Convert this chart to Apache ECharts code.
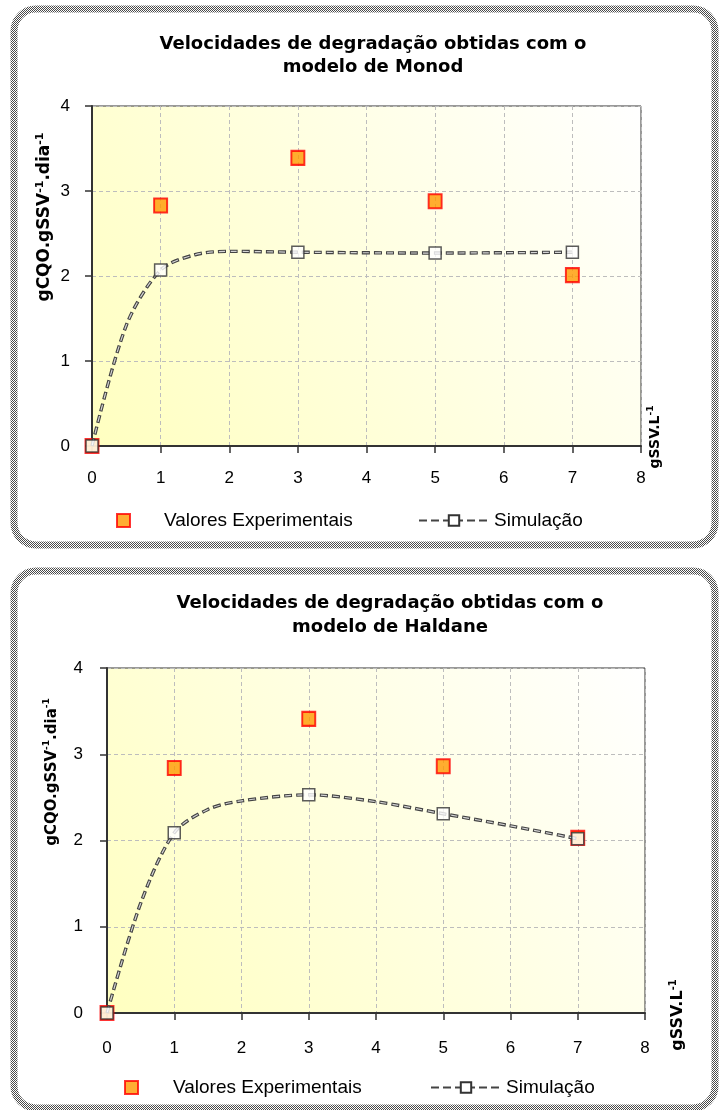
<!DOCTYPE html>
<html>
<head>
<meta charset="utf-8">
<script src="https://cdn.jsdelivr.net/npm/echarts@6/dist/echarts.min.js"></script>
<style>
html,body{margin:0;padding:0;background:#fff;}
#c{width:719px;height:1110px;}
</style>
</head>
<body>
<div id="c"></div>
<script>
// ---- data ----
const xTicks = [0, 1, 2, 3, 4, 5, 6, 7, 8];
const yTicks = [0, 1, 2, 3, 4];
// Monod
const xMonod = [0, 1, 3, 5, 7];
const expMonod = [0, 2.83, 3.39, 2.88, 2.01];
const simMonod = [0, 2.07, 2.28, 2.27, 2.28];
// simulated curve
const curveXMonod = [0, 0.5, 1, 1.5, 2, 3, 5, 7];
const curveYMonod = [0, 1.42, 2.07, 2.25, 2.29, 2.28, 2.27, 2.28];
// Haldane
const xHaldane = [0, 1, 3, 5, 7];
const expHaldane = [0, 2.84, 3.41, 2.86, 2.03];
const simHaldane = [0, 2.09, 2.53, 2.31, 2.02];
const curveXHaldane = [0, 0.5, 1, 1.5, 2, 3, 4, 5, 6, 7];
const curveYHaldane = [0, 1.27, 2.09, 2.36, 2.46, 2.53, 2.45, 2.31, 2.17, 2.02];

const titleMonod = ['Velocidades de degradação obtidas com o', 'modelo de Monod'];
const titleHaldane = ['Velocidades de degradação obtidas com o', 'modelo de Haldane'];
const expName = 'Valores Experimentais';
const simName = 'Simulação';

const zip = (xs, ys) => xs.map((x, i) => [x, ys[i]]);

const chart = echarts.init(document.getElementById('c'), null, {renderer: 'canvas'});

// checker pattern for frame
const pc = document.createElement('canvas');
pc.width = 2; pc.height = 2;
const pctx = pc.getContext('2d');
pctx.fillStyle = '#ffffff'; pctx.fillRect(0, 0, 2, 2);
pctx.fillStyle = '#4a4a4a'; pctx.fillRect(0, 0, 1, 1); pctx.fillRect(1, 1, 1, 1);
const pattern = {image: pc, repeat: 'repeat'};

const bg = () => new echarts.graphic.LinearGradient(0, 1, 1, 0, [
  {offset: 0, color: '#ffffc0'},
  {offset: 1, color: '#ffffff'}
]);

const labelFont = {fontFamily: 'Liberation Sans', fontSize: 17, color: '#000'};

function xAxisCfg(gi, margin) {
  return {
    type: 'value', gridIndex: gi, min: xTicks[0], max: xTicks[xTicks.length - 1], interval: 1,
    axisLine: {show: true, onZero: false, lineStyle: {color: '#333', width: 2}},
    axisTick: {show: true, length: 7, lineStyle: {color: '#333', width: 1.5}},
    axisLabel: Object.assign({margin: margin}, labelFont),
    splitLine: {show: true, lineStyle: {color: '#bdbdbd', type: [4, 3], width: 1}}
  };
}
function yAxisCfg(gi, margin) {
  return {
    type: 'value', gridIndex: gi, min: yTicks[0], max: yTicks[yTicks.length - 1], interval: 1,
    axisLine: {show: true, onZero: false, lineStyle: {color: '#333', width: 2}},
    axisTick: {show: true, length: 7, lineStyle: {color: '#333', width: 1.5}},
    axisLabel: Object.assign({margin: margin}, labelFont),
    splitLine: {show: true, lineStyle: {color: '#bdbdbd', type: [4, 3], width: 1}}
  };
}

function seriesFor(gi, xs, exp, sim, cx, cy) {
  const simMarker = {color: '#ffffff', borderColor: '#333', borderWidth: 1.5};
  return [
    {
      name: expName, type: 'scatter', xAxisIndex: gi, yAxisIndex: gi,
      data: zip(xs, exp), symbol: 'rect', symbolSize: [13, 14], clip: false,
      itemStyle: {color: '#ff9900', borderColor: '#ff0000', borderWidth: 2}, z: 3
    },
    {
      name: simName, type: 'line', xAxisIndex: gi, yAxisIndex: gi,
      data: zip(cx, cy), smooth: 0.3, clip: false,
      lineStyle: {color: '#444', width: 3.4, type: [8, 4]},
      symbol: 'rect', symbolSize: 12, showSymbol: false, itemStyle: simMarker, z: 4
    },
    {
      name: 'sim-inner', type: 'line', xAxisIndex: gi, yAxisIndex: gi,
      data: zip(cx, cy), smooth: 0.3, clip: false, silent: true,
      lineStyle: {color: '#d4d4d4', width: 1.2, type: [6, 6], dashOffset: -1},
      symbol: 'none', z: 5
    },
    {
      name: 'sim-markers', type: 'scatter', xAxisIndex: gi, yAxisIndex: gi,
      data: zip(xs, sim), symbol: 'rect', symbolSize: 12, clip: false,
      itemStyle: simMarker, z: 6
    }
  ];
}

const legendText = {fontFamily: 'Liberation Sans', fontSize: 19, color: '#000'};
function legendExp(left, top, gap) {
  return {
    data: [{name: expName, icon: 'rect'}], left: left, top: top, itemWidth: 13, itemHeight: 13, selectedMode: false,
    formatter: n => '{gap| }' + n,
    textStyle: Object.assign({rich: {gap: {width: gap}}}, legendText)
  };
}
function legendSim(left, top) {
  return {
    data: [simName], left: left, top: top, itemWidth: 70, itemHeight: 13, selectedMode: false,
    textStyle: legendText
  };
}

const richName = (size) => ({
  b: {fontFamily: 'DejaVu Sans', fontWeight: 'bold', fontSize: size, color: '#000', lineHeight: size + 4},
  s: {fontFamily: 'DejaVu Sans', fontWeight: 'bold', fontSize: Math.round(size * 0.62), color: '#000', verticalAlign: 'top', lineHeight: size + 4}
});

function rotText(x, y, text, size) {
  return {
    type: 'text', x: x, y: y, rotation: Math.PI / 2, z: 10,
    style: {text: text, rich: richName(size), align: 'center', verticalAlign: 'middle'}
  };
}
function titleText(x, y, text) {
  return {
    type: 'text', x: x, y: y, z: 10,
    style: {text: text, fontFamily: 'DejaVu Sans', fontWeight: 'bold', fontSize: 18, fill: '#000', align: 'center', verticalAlign: 'middle'}
  };
}

const option = {
  animation: false,
  backgroundColor: '#ffffff',
  grid: [
    {left: 92, top: 106, width: 549, height: 340, show: true, backgroundColor: bg(), borderColor: '#333', borderWidth: 1},
    {left: 107, top: 668, width: 538, height: 345, show: true, backgroundColor: bg(), borderColor: '#333', borderWidth: 1}
  ],
  xAxis: [xAxisCfg(0, 24), xAxisCfg(1, 27)],
  yAxis: [yAxisCfg(0, 22), yAxisCfg(1, 24)],
  legend: [
    legendExp(111, 506, 29),
    legendSim(413, 506),
    legendExp(119, 1073, 30),
    legendSim(425, 1073)
  ],
  series: [].concat(
    seriesFor(0, xMonod, expMonod, simMonod, curveXMonod, curveYMonod),
    seriesFor(1, xHaldane, expHaldane, simHaldane, curveXHaldane, curveYHaldane)
  ),
  graphic: [
    {type: 'rect', z: 0, silent: true, shape: {x: 14, y: 9, width: 701, height: 536, r: 22}, style: {fill: 'none', stroke: pattern, lineWidth: 7}},
    {type: 'rect', z: 0, silent: true, shape: {x: 14, y: 571, width: 701, height: 537, r: 22}, style: {fill: 'none', stroke: pattern, lineWidth: 7}},
    titleText(373, 44, titleMonod[0]),
    titleText(373, 67, titleMonod[1]),
    titleText(390, 603, titleHaldane[0]),
    titleText(390, 627, titleHaldane[1]),
    rotText(45, 217, '{b|gCQO.gSSV}{s|-1}{b|.dia}{s|-1}', 17),
    rotText(655, 437, '{b|gSSV.L}{s|-1}', 14),
    rotText(52, 772, '{b|gCQO.gSSV}{s|-1}{b|.dia}{s|-1}', 15),
    rotText(678, 1015, '{b|gSSV.L}{s|-1}', 16)
  ]
};
chart.setOption(option);
</script>
</body>
</html>
